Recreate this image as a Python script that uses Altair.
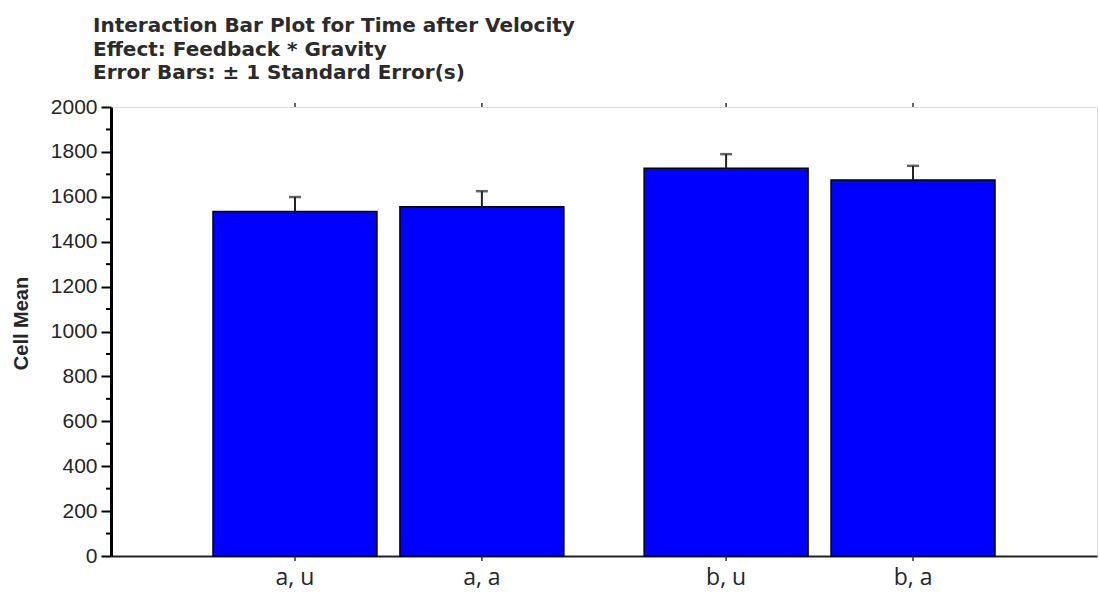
import altair as alt
import pandas as pd

feedback = ["a", "a", "b", "b"]
gravity = ["u", "a", "u", "a"]
labels = ["a, u", "a, a", "b, u", "b, a"]
means = [1534, 1556, 1727, 1675]
se = [65, 69, 63, 63]
minor_ticks = [100, 300, 500, 700, 900, 1100, 1300, 1500, 1700, 1900]

df = pd.DataFrame({
    "Feedback": feedback,
    "Gravity": gravity,
    "label": labels,
    "mean": means,
    "upper": [m + s for m, s in zip(means, se)],
})
minor_df = pd.DataFrame({"v": minor_ticks})

yscale = alt.Scale(domain=[0, 2000], nice=False)
X = alt.X("Feedback:N", sort=["a", "b"],
          scale=alt.Scale(paddingInner=0.005, paddingOuter=0.146),
          axis=alt.Axis(labels=False, ticks=False, title=None, domainColor="#222",
                        domainWidth=2))
XO = alt.XOffset("Gravity:N", sort=["u", "a"],
                 scale=alt.Scale(paddingInner=0.123, paddingOuter=0.209))
Y = alt.Y("mean:Q", scale=yscale,
          axis=alt.Axis(values=list(range(0, 2001, 200)), format="d",
                        title="Cell Mean",
                        titleFont="Liberation Sans", titleFontSize=20,
                        titleFontWeight="bold", titleColor="#262626",
                        titleAngle=-90, titleX=-84, titleY=216,
                        titleAlign="center", titleBaseline="alphabetic",
                        labelFont="Liberation Sans", labelFontSize=21,
                        labelColor="#262626", labelPadding=4,
                        tickSize=10, tickWidth=2, tickColor="black",
                        domainColor="black", domainWidth=3, grid=False))

base = alt.Chart(df)
bars = base.mark_bar(fill="#0000ff", stroke="black", strokeWidth=1.5).encode(
    x=X, xOffset=XO, y=Y)
stems = base.mark_rule(color="#222", strokeWidth=2).encode(
    x=X, xOffset=XO, y=alt.Y("mean:Q", scale=yscale), y2="upper:Q")
caps = base.mark_tick(color="#222", thickness=2.5, size=12).encode(
    x=X, xOffset=XO, y=alt.Y("upper:Q", scale=yscale))
xlabels = base.mark_text(font="Open Sans", fontSize=23, color="#262626",
                         baseline="alphabetic").encode(
    x=X, xOffset=XO, y=alt.value(478), text="label:N")
bticks = base.mark_rule(color="#333", strokeWidth=1.5).encode(
    x=X, xOffset=XO, y=alt.value(449), y2=alt.value(454))
tticks = base.mark_rule(color="#333", strokeWidth=1.5).encode(
    x=X, xOffset=XO, y=alt.value(-4), y2=alt.value(0))
minor = alt.Chart(minor_df).mark_rule(color="black", strokeWidth=2).encode(
    y=alt.Y("v:Q", scale=yscale), x=alt.value(-5), x2=alt.value(0))

chart = alt.layer(bars, stems, caps, bticks, tticks, xlabels, minor).properties(
    width=986, height=449,
    title=alt.TitleParams(
        ["Interaction Bar Plot for Time after Velocity",
         "Effect: Feedback * Gravity",
         "Error Bars: \u00b1 1 Standard Error(s)"],
        anchor="start", frame="group", dx=-18, offset=13,
        font="DejaVu Sans", fontSize=20, fontWeight="bold",
        color="#2b2b2b", lineHeight=23.5),
    autosize=alt.AutoSizeParams(type="none"),
    padding={"left": 111, "top": 107, "right": 2, "bottom": 38},
).configure_view(stroke="#555", strokeWidth=2).configure(background="white")

chart.save("out.html", embed_options={"renderer": "svg", "actions": False})
